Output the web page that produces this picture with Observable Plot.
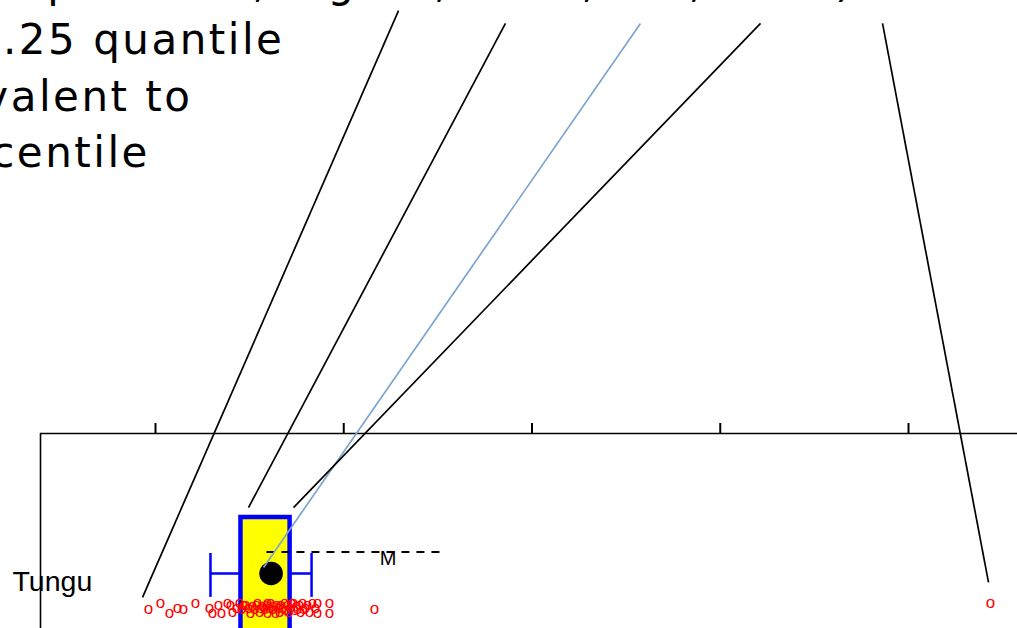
<!DOCTYPE html>
<html><head><meta charset="utf-8">
<script src="https://cdn.jsdelivr.net/npm/d3@7"></script>
<script src="https://cdn.jsdelivr.net/npm/@observablehq/plot@0.6"></script>
<style>
html,body{margin:0;padding:0;background:#fff;overflow:hidden}
#chart svg{display:block}
g[font-family="DejaVu Sans"]{letter-spacing:2.5px}
</style></head><body><div id="chart"></div>
<script>
// ---- data ----
const group = "Tungu";
const tickValues = [10, 20, 30, 40, 50];
const sampleValues = [9.63,10.27,10.74,11.17,11.49,12.12,12.87,13.03,13.35,13.51,13.82,13.98,14.09,14.30,14.46,14.57,14.67,14.78,14.94,15.05,15.15,15.26,15.37,15.42,15.52,15.58,15.68,15.79,15.90,15.95,15.95,16.06,16.11,16.22,16.27,16.37,16.43,16.53,16.59,16.64,16.75,16.85,16.91,17.01,17.07,17.17,17.22,17.33,17.38,17.49,17.54,17.65,17.70,17.81,17.86,17.97,18.07,18.18,18.34,18.50,18.61,18.61,19.24,19.24,21.63,54.36];
const sampleJitter = [0.25,0.21,0.28,0.24,0.25,0.21,0.24,0.28,0.22,0.28,0.21,0.22,0.27,0.24,0.21,0.25,0.22,0.22,0.24,0.28,0.23,0.25,0.22,0.21,0.27,0.24,0.23,0.25,0.22,0.21,0.28,0.24,0.21,0.25,0.23,0.28,0.22,0.24,0.27,0.22,0.24,0.21,0.26,0.22,0.27,0.24,0.21,0.21,0.26,0.23,0.25,0.22,0.27,0.21,0.25,0.24,0.22,0.27,0.21,0.24,0.21,0.28,0.21,0.28,0.25,0.21];
const q1 = 14.54, q3 = 17.15, whiskerLow = 12.92, whiskerHigh = 18.29;
const meanValue = 16.14, medianValue = 15.92;
const medianLabel = "M";
const noteLines = ["Box plot with, big lot, hints, tail, stats)", "the 0.25 quantile", "equivalent to", "25th percentile"];

// ---- layout ----
const xDomain = [3.891, 55.790];
const yDomain = [1.3929, 0];
const row = 1;
const pxToX = px => 10 + (px - 155) / 18.825;
const points = sampleValues.map((v, i) => ({value: v, y: row + sampleJitter[i]}));
const leaders = [
  {x1: 22.91, y1: -3.021, x2: 9.31, y2: 1.171, c: "black"},
  {x1: 28.59, y1: -2.929, x2: 14.94, y2: 0.529, c: "black"},
  {x1: 35.76, y1: -2.929, x2: 15.74, y2: 0.957, c: "#7ba4cf"},
  {x1: 42.14, y1: -2.929, x2: 17.33, y2: 0.529, c: "black"},
  {x1: 48.62, y1: -2.929, x2: 54.25, y2: 1.064, c: "black"}
];
const noteX = [-54.8, -119, -118, -208].map(pxToX);
const noteY = [-3.117, -2.712, -2.307, -1.902];
const notes = noteLines.map((t, i) => ({t, x: noteX[i], y: noteY[i]}));

const chart = Plot.plot({
  width: 1017, height: 628,
  marginTop: 433, marginLeft: 40, marginRight: 0, marginBottom: 0,
  x: {domain: xDomain, axis: null},
  y: {domain: yDomain, axis: null},
  marks: [
    Plot.ruleY([0], {x1: xDomain[0], x2: xDomain[1], stroke: "black", strokeWidth: 1.6}),
    Plot.ruleX([xDomain[0]], {y1: 0, y2: yDomain[0], stroke: "black", strokeWidth: 1.6}),
    Plot.ruleX(tickValues, {y1: 0, y2: -10/140, stroke: "black", strokeWidth: 2}),
    Plot.rect([{q1, q3}], {x1: "q1", x2: "q3", y1: row - 0.4, y2: row + 0.42, fill: "#ffff00", stroke: "#0000ff", strokeWidth: 4.5}),
    Plot.ruleY([row], {x1: whiskerLow, x2: q1, stroke: "#0000ff", strokeWidth: 2.5}),
    Plot.ruleY([row], {x1: q3, x2: whiskerHigh, stroke: "#0000ff", strokeWidth: 2.5}),
    Plot.ruleX([whiskerLow, whiskerHigh], {y1: row - 0.143, y2: row + 0.171, stroke: "#0000ff", strokeWidth: 2.5}),
    Plot.ruleY([row - 0.154], {x1: medianValue, x2: 25.40, stroke: "black", strokeWidth: 2, strokeDasharray: "8,7"}),
    Plot.text([medianLabel], {x: 22.35, y: row - 0.11, text: d => d, fontSize: 20, fontFamily: "Liberation Sans", fill: "black"}),
    Plot.dot([meanValue], {x: d => d, y: row, r: 11.8, fill: "black", stroke: "none"}),
    Plot.text(points, {x: "value", y: "y", text: () => "o", fill: "#ff0000", fontSize: 17, fontFamily: "Liberation Sans"}),
    Plot.link(leaders, {x1: "x1", y1: "y1", x2: "x2", y2: "y2", stroke: "c", strokeWidth: 1.7}),
    Plot.text([group], {frameAnchor: "left", y: row, dx: -28, dy: 8, text: d => d, textAnchor: "start", fontSize: 28.5, fontFamily: "Liberation Sans", fill: "black"}),
    Plot.text(notes, {x: "x", y: "y", text: "t", textAnchor: "start", lineAnchor: "bottom", fontSize: 42, fontFamily: "DejaVu Sans", fill: "black"})
  ]
});
document.getElementById("chart").appendChild(chart);
</script></body></html>
